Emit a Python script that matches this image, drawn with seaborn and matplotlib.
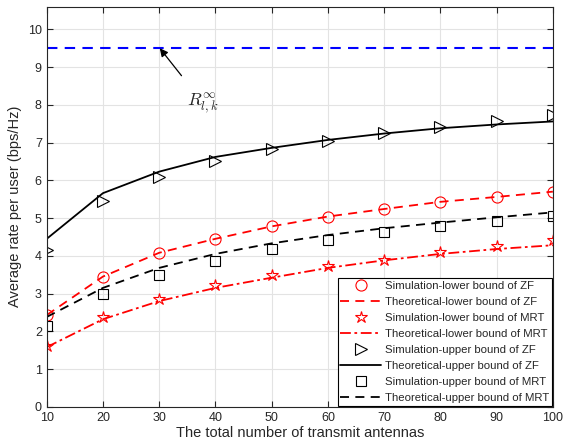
import numpy as np
import seaborn as sns
import matplotlib.pyplot as plt

sns.set_style("whitegrid")
plt.rcParams['font.family'] = ['Liberation Sans', 'DejaVu Sans']
plt.rcParams['mathtext.fontset'] = 'cm'

antennas = [10, 20, 30, 40, 50, 60, 70, 80, 90, 100]

sim_lower_zf = [2.42, 3.45, 4.07, 4.45, 4.80, 5.02, 5.23, 5.42, 5.56, 5.70]
theo_lower_zf = [2.43, 3.45, 4.08, 4.45, 4.78, 5.04, 5.24, 5.43, 5.56, 5.70]
sim_lower_mrt = [1.62, 2.37, 2.86, 3.23, 3.50, 3.73, 3.90, 4.10, 4.25, 4.42]
theo_lower_mrt = [1.58, 2.32, 2.80, 3.15, 3.42, 3.68, 3.88, 4.05, 4.18, 4.28]
sim_upper_zf = [4.15, 5.45, 6.10, 6.50, 6.83, 7.05, 7.25, 7.42, 7.57, 7.72]
theo_upper_zf = [4.45, 5.66, 6.23, 6.62, 6.86, 7.07, 7.24, 7.38, 7.48, 7.56]
sim_upper_mrt = [2.15, 3.00, 3.50, 3.85, 4.18, 4.42, 4.62, 4.80, 4.92, 5.05]
theo_upper_mrt = [2.38, 3.15, 3.68, 4.05, 4.33, 4.55, 4.73, 4.88, 5.02, 5.15]
r_inf = 9.5

fig = plt.figure(figsize=(5.63, 4.47), dpi=100)
ax = fig.add_axes([0.083, 0.090, 0.899, 0.895])

ms = 8
# blue asymptote
sns.lineplot(x=antennas, y=[r_inf] * len(antennas), ax=ax, color='blue',
             linestyle=(0, (5, 3.5)), linewidth=1.5)

series = [
    (sim_lower_zf, 'Simulation-lower bound of ZF', 'red', '', 'o'),
    (theo_lower_zf, 'Theoretical-lower bound of ZF', 'red', (0, (5, 3.5)), None),
    (sim_lower_mrt, 'Simulation-lower bound of MRT', 'red', '', '*'),
    (theo_lower_mrt, 'Theoretical-lower bound of MRT', 'red', (0, (6, 2, 1.5, 2)), None),
    (sim_upper_zf, 'Simulation-upper bound of ZF', 'black', '', '>'),
    (theo_upper_zf, 'Theoretical-upper bound of ZF', 'black', '-', None),
    (sim_upper_mrt, 'Simulation-upper bound of MRT', 'black', '', 's'),
    (theo_upper_mrt, 'Theoretical-upper bound of MRT', 'black', (0, (5, 3.5)), None),
]
for vals, lab, col, ls, mk in series:
    if mk is None:
        sns.lineplot(x=antennas, y=vals, ax=ax, color=col, linestyle=ls,
                     linewidth=1.3, label=lab)
    else:
        size = 9 if mk == '*' else (ms - 1 if mk == 's' else ms)
        sns.lineplot(x=antennas, y=vals, ax=ax, color=col, linestyle='',
                     marker=mk, markersize=size, markerfacecolor='none',
                     markeredgecolor=col, markeredgewidth=0.8, label=lab)

ax.set_xlim(10, 100)
ax.set_ylim(0, 10.6)
ax.set_xticks(antennas)
ax.set_yticks(range(0, 11))
ax.tick_params(direction='in', length=4, labelsize=9, colors='#262626',
               top=True, right=True, bottom=True, left=True)
ax.grid(True, color='#e3e3e3', linewidth=0.8)
for s in ax.spines.values():
    s.set_color('#262626')
    s.set_linewidth(0.8)
ax.set_xlabel('The total number of transmit antennas', fontsize=10.5, color='#262626', labelpad=2)
ax.set_ylabel('Average rate per user (bps/Hz)', fontsize=10.5, color='#262626', labelpad=4)

ax.annotate(r'$R_{l,k}^{\infty}$', xy=(30.1, 9.5), xytext=(37.8, 8.05),
            fontsize=13, ha='center', va='center',
            arrowprops=dict(arrowstyle='-|>', color='black', lw=0.9,
                            shrinkA=11, shrinkB=0, mutation_scale=12))

leg = ax.legend(loc='lower right', fontsize=8.2, frameon=True, fancybox=False,
                edgecolor='black', framealpha=1, borderpad=0.25, labelspacing=0.53,
                handlelength=3.6, handletextpad=0.3, borderaxespad=0.08)
leg.get_frame().set_linewidth(0.8)

fig.savefig('out.png', dpi=100)
